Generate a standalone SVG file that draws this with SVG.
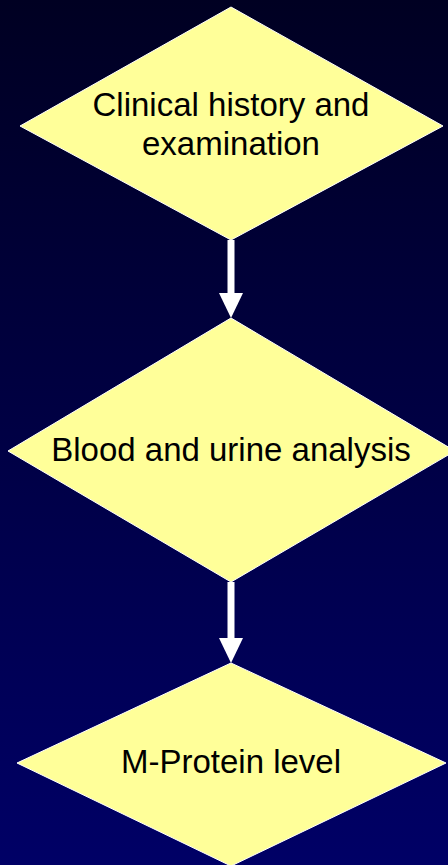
<svg xmlns="http://www.w3.org/2000/svg" width="448" height="865" viewBox="0 0 448 865">
<defs>
<linearGradient id="bg" x1="0" y1="0" x2="0" y2="1">
<stop offset="0" stop-color="#000022"/>
<stop offset="1" stop-color="#000066"/>
</linearGradient>
<style>
.node{fill:#FFFF99;stroke:#FFFFFF;stroke-width:1}
.lbl{font-family:"Liberation Sans",Arial,sans-serif;font-size:33px;fill:#000000;text-anchor:middle}
.conn{stroke:#FFFFFF;stroke-width:7;fill:none}
.head{fill:#FFFFFF}
</style>
</defs>
<rect width="448" height="865" fill="url(#bg)"/>
<g id="connectors">
<line class="conn" x1="231" y1="240" x2="231" y2="296"/>
<path class="head" d="M219,293 L243,293 L231,318 Z"/>
<line class="conn" x1="231" y1="582" x2="231" y2="641"/>
<path class="head" d="M219,638 L243,638 L231,663 Z"/>
</g>
<g id="node1">
<polygon class="node" points="231,7 443,126 231,240 20,126"/>
<text class="lbl" x="231" y="116">Clinical history and</text>
<text class="lbl" x="231" y="155">examination</text>
</g>
<g id="node2">
<polygon class="node" points="231,318 455,451 231,582 8,451"/>
<text class="lbl" x="231" y="461">Blood and urine analysis</text>
</g>
<g id="node3">
<polygon class="node" points="231,663 446,763 231,866 17,763"/>
<text class="lbl" x="231" y="773">M-Protein level</text>
</g>
</svg>
